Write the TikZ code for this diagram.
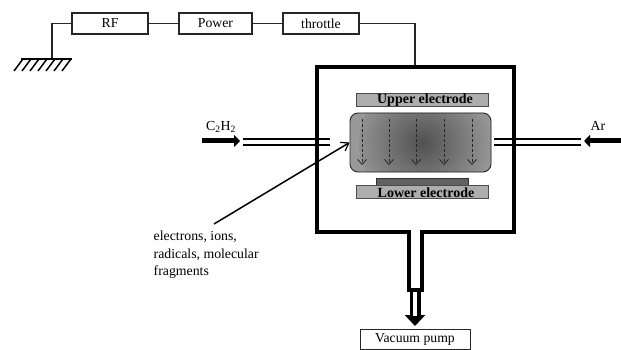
\documentclass[tikz,border=0pt]{standalone}
\usepackage{fontspec}
\setmainfont{Liberation Serif}
\usetikzlibrary{arrows.meta}
\tikzset{
  x=1pt,y=-1pt,
  wire/.style={draw=black!85,line width=1.35pt},
  labelbox/.style={draw=black!85,line width=1.35pt,fill=white,minimum height=21pt,inner sep=0pt,font=\fontsize{13.7}{15}\selectfont},
  wall/.style={draw=black,line width=3.2pt,line join=miter},
  gasline/.style={draw=black,line width=1.6pt},
  electrode/.style={draw=black!70,line width=.8pt,fill=black!32,inner sep=0pt,minimum height=13pt},
  electext/.style={inner sep=0pt,font=\bfseries\fontsize{14}{15}\selectfont},
  fieldarrow/.style={draw=black!85,line width=.9pt,densely dashed,-{Straight Barb[length=5pt,width=9pt,line width=.8pt]}},
  feed/.style={draw=black,line width=5pt,-{Triangle[length=6pt,width=12pt]}},
  plain/.style={inner sep=0pt,font=\fontsize{13.8}{15}\selectfont}
}
\begin{document}
\begin{tikzpicture}
\useasboundingbox (0,0) rectangle (621,350);
% circuit
\node[labelbox,minimum width=76pt] (rf) at (110,23.5) {RF};
\node[labelbox,minimum width=73pt] (power) at (215.5,23.5) {Power};
\node[labelbox,minimum width=76pt] (throttle) at (321,23.5) {throttle};
\coordinate (gndtop) at (52,59);
\coordinate (chambertop) at (415,66);
\draw[wire] (rf.west) -| (gndtop);
\draw[wire] (rf) -- (power);
\draw[wire] (power) -- (throttle);
\draw[wire] (throttle.east) -| (chambertop);
\draw[wire,draw=black] (21,59) -- (72,59);
\foreach \x in {23,31,39,47,55,63,71}
  \draw[draw=black,line width=1.5pt] (\x,59) -- ++(-9,12);
% chamber
\draw[wall] (409,290) -- (409,232) -- (317,232) -- (317,67) -- (514,67) -- (514,232) -- (422,232) -- (422,290) -- cycle;
% plasma
\node[draw=black!85,line width=.9pt,rounded corners=8pt,minimum width=141pt,minimum height=59pt,inner sep=0pt,
  fill=black!40,
  path picture={\shade[inner color=black!68,outer color=black!40] (path picture bounding box.center) ++(6.5,0) circle (68pt);}] (plasma) at (420.5,142.5) {};
\node[electrode,minimum width=132pt] (upper) at (422,99.5) {};
\node[electext] (uppertext) at (425,100) {Upper electrode};
\node[draw=black!80,line width=.8pt,fill=black!62,minimum width=92pt,minimum height=7pt,inner sep=0pt] (substrate) at (422,181.5) {};
\node[electrode,minimum width=132pt] (lower) at (422,191.5) {};
\node[electext] (lowertext) at (426,192.5) {Lower electrode};
\foreach \x in {362,389,416,444,472}
  \draw[fieldarrow] (\x,119) -- (\x,165);
% gas lines
\draw[gasline] (243,139) -- (330,139);
\draw[gasline] (243,145) -- (330,145);
\draw[gasline] (494,139) -- (581,139);
\draw[gasline] (494,145) -- (581,145);
\coordinate (leftstart) at (202,141);
\coordinate (lefttip) at (240,141);
\coordinate (rightstart) at (621,141);
\coordinate (righttip) at (584,141);
\draw[feed] (leftstart) -- (lefttip);
\draw[feed] (rightstart) -- (righttip);
\node[plain] (ctwo) at (221,127) {C\textsubscript{2}H\textsubscript{2}};
\node[plain] (ar) at (598,126) {Ar};
% callout
\node[plain,align=left,anchor=north west,font=\fontsize{13.8}{17.5}\selectfont] (species) at (153.5,231) {electrons, ions,\\radicals, molecular\\fragments};
\coordinate (callfrom) at (214,224);
\draw[draw=black,line width=1.5pt,-{Straight Barb[length=7pt,width=10pt,line width=1.2pt]}] (callfrom) -- (plasma.west);
% pump
\node[labelbox,minimum width=110pt,line width=1pt,minimum height=20pt] (pump) at (415,339) {Vacuum pump};
\coordinate (pipeend) at (415,290);
\coordinate (pumptip) at (415,326);
\draw[draw=black,line width=11pt,-{Triangle[length=11pt,width=20pt]}] (pipeend) -- (pumptip);
\fill[white] (413.2,292) rectangle (416.8,316);
\end{tikzpicture}
\end{document}
